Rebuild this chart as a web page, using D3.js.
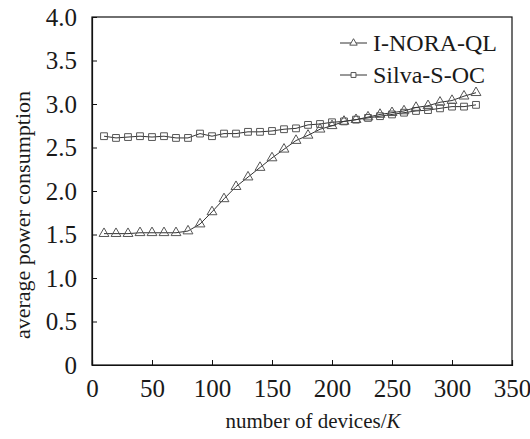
<!DOCTYPE html>
<html>
<head>
<meta charset="utf-8">
<script src="https://cdn.jsdelivr.net/npm/d3@7"></script>
<style>
  body { margin: 0; background: #fff; }
  text { font-family: "Liberation Serif", "Times New Roman", serif; fill: #1a1a1a; }
</style>
</head>
<body>
<div id="chart"></div>
<script>
// x values: number of devices
const devices = [10, 20, 30, 40, 50, 60, 70, 80, 90, 100, 110, 120, 130, 140, 150, 160,
                 170, 180, 190, 200, 210, 220, 230, 240, 250, 260, 270, 280, 290, 300, 310, 320];

// I-NORA-QL series
const noraQL = [1.51, 1.51, 1.51, 1.52, 1.52, 1.52, 1.52, 1.54, 1.62, 1.76, 1.91, 2.05, 2.16, 2.27, 2.38, 2.48,
                2.58, 2.64, 2.71, 2.75, 2.80, 2.82, 2.85, 2.88, 2.90, 2.92, 2.96, 2.98, 3.02, 3.04, 3.09, 3.13];

// Silva-S-OC series
const silvaSOC = [2.63, 2.61, 2.62, 2.63, 2.62, 2.63, 2.61, 2.61, 2.66, 2.63, 2.66, 2.66, 2.68, 2.68, 2.69, 2.71,
                  2.72, 2.76, 2.77, 2.79, 2.80, 2.82, 2.84, 2.86, 2.88, 2.90, 2.92, 2.93, 2.95, 2.97, 2.97, 2.99];

const xTicks = [0, 50, 100, 150, 200, 250, 300, 350];
const yTicks = [0, 0.5, 1.0, 1.5, 2.0, 2.5, 3.0, 3.5, 4.0];
const seriesNames = ["I-NORA-QL", "Silva-S-OC"];

const width = 530, height = 439;
const margin = { left: 92, right: 18, top: 17, bottom: 74 };

const svg = d3.select("#chart")
    .append("svg")
    .attr("width", width)
    .attr("height", height);

const x = d3.scaleLinear().domain([0, 350]).range([margin.left, width - margin.right]);
const y = d3.scaleLinear().domain([0, 4]).range([height - margin.bottom, margin.top]);

// frame
svg.append("rect")
    .attr("x", x(0)).attr("y", y(4))
    .attr("width", x(350) - x(0)).attr("height", y(0) - y(4))
    .attr("fill", "none").attr("stroke", "#111").attr("stroke-width", 1.2);

// axes with inward ticks
const xAxis = svg.append("g")
    .attr("transform", `translate(0,${y(0)})`)
    .call(d3.axisBottom(x).tickValues(xTicks).tickSize(-5).tickPadding(14).tickFormat(d3.format("d")));
const yAxis = svg.append("g")
    .attr("transform", `translate(${x(0)},0)`)
    .call(d3.axisLeft(y).tickValues(yTicks).tickSize(-5).tickPadding(15)
      .tickFormat(d => d === 0 ? "0" : d3.format(".1f")(d)));

[xAxis, yAxis].forEach(g => {
  g.select(".domain").attr("stroke", "#111").attr("stroke-width", 1.2);
  g.selectAll(".tick line").attr("stroke", "#111");
  g.selectAll(".tick text").style("font-size", "25px").attr("fill", "#1a1a1a");
});
xAxis.selectAll(".tick text").attr("dy", "0.71em");
// the end ticks sit on the frame
xAxis.selectAll(".tick line").filter(d => d === 0 || d === 350).remove();
yAxis.selectAll(".tick line").filter(d => d === 0 || d === 4).remove();

// axis titles
svg.append("text")
    .attr("x", (x(0) + x(350)) / 2 + 11).attr("y", 428)
    .attr("text-anchor", "middle")
    .style("font-size", "21px")
    .html('number of devices/<tspan font-style="italic">K</tspan>');

svg.append("text")
    .attr("transform", `translate(30,${(y(0) + y(4)) / 2 + 24}) rotate(-90)`)
    .attr("text-anchor", "middle")
    .style("font-size", "22px")
    .text("average power consumption");

const line = d3.line().x((d, i) => x(devices[i])).y(d => y(d));

const triangle = d3.symbol().type(d3.symbolTriangle).size(42);
const square = d3.symbol().type(d3.symbolSquare).size(46);

function drawSeries(values, sym) {
  svg.append("path")
      .datum(values)
      .attr("d", line)
      .attr("fill", "none")
      .attr("stroke", "#333")
      .attr("stroke-width", 1);
  svg.append("g").selectAll("path")
      .data(values)
      .enter()
      .append("path")
      .attr("d", sym)
      .attr("transform", (d, i) => `translate(${x(devices[i])},${y(d)})`)
      .attr("fill", "none")
      .attr("stroke", "#555")
      .attr("stroke-width", 1);
}

drawSeries(silvaSOC, square);
drawSeries(noraQL, triangle);

// legend
const legendY = [43, 75];
const legendSyms = [d3.symbol().type(d3.symbolTriangle).size(24), d3.symbol().type(d3.symbolSquare).size(24)];
seriesNames.forEach((name, i) => {
  const g = svg.append("g").attr("transform", `translate(340,${legendY[i]})`);
  g.append("line").attr("x1", 0).attr("x2", 27).attr("y1", 0).attr("y2", 0)
      .attr("stroke", "#333").attr("stroke-width", 1);
  g.append("path").attr("d", legendSyms[i]).attr("transform", "translate(13.5,0)")
      .attr("fill", "#fff").attr("stroke", "#555");
  g.append("text").attr("x", 33).attr("y", 0).attr("dy", "0.35em")
      .style("font-size", "24px").text(name);
});
</script>
</body>
</html>
